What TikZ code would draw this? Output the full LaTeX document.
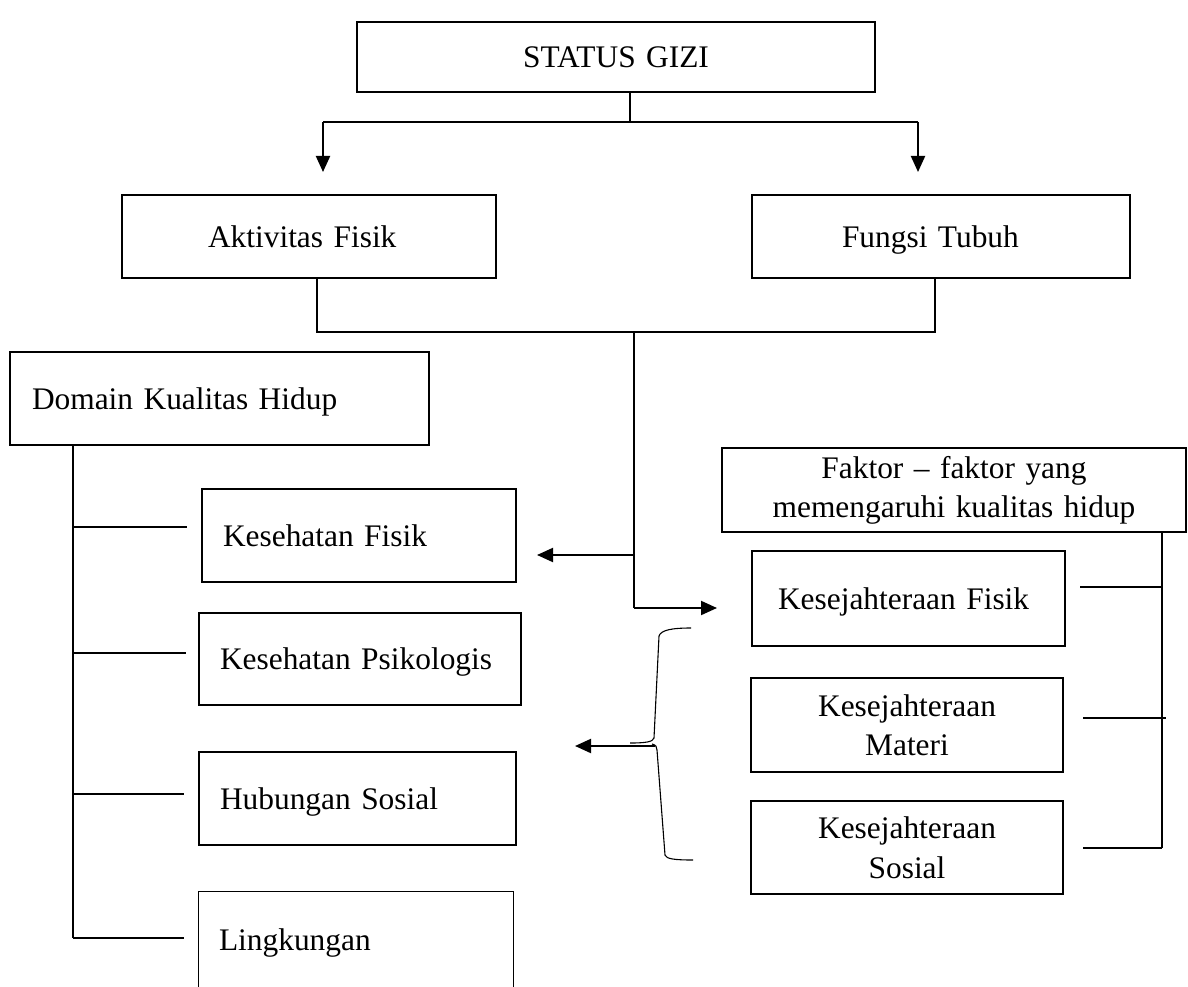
\documentclass[tikz,border=0pt]{standalone}
\usepackage{fontspec}
\setmainfont{Liberation Serif}
\usetikzlibrary{arrows.meta}
\begin{document}
\begin{tikzpicture}[x=1pt,y=-1pt,
  txt/.style={font=\fontsize{31.4}{39.5}\selectfont, inner ysep=0pt, text height=21.5pt, text depth=0pt},
  bold/.style={line width=2pt},
  mid/.style={line width=1.6pt},
  fine/.style={line width=1.2pt},
  lbox/.style={txt, draw, align=left},
  cbox/.style={txt, draw, bold, align=center, inner xsep=0pt},
  twoline/.style={text depth=39.5pt},
  conn/.style={line width=1.1pt},
  arr/.style={line width=2pt, -{Triangle[length=16pt,width=14pt]}}
]
\useasboundingbox (0,0) rectangle (1188,987);

% top level
\node[cbox, minimum width=518pt, minimum height=70pt, text width=518pt] (gizi) at (616,57) {STATUS GIZI};
\node[lbox, bold, minimum height=83pt, inner xsep=86pt, text width=202pt] (akt) at (309,236.5) {Aktivitas Fisik};
\node[lbox, bold, minimum height=83pt, inner xsep=90pt, text width=198pt] (fun) at (941,236.5) {Fungsi Tubuh};

% left column
\node[lbox, mid, minimum height=93pt, inner xsep=22pt, text width=375pt] (dom) at (219.5,398.5) {Domain Kualitas Hidup};
\node[lbox, mid, minimum height=93pt, inner xsep=21pt, text width=272pt] (kfis) at (359,535.5) {Kesehatan Fisik};
\node[lbox, fine, minimum height=92pt, inner xsep=21pt, text width=280pt] (kpsi) at (360,659) {Kesehatan Psikologis};
\node[lbox, fine, minimum height=93pt, inner xsep=21pt, text width=275pt] (hub) at (357.5,798.5) {Hubungan Sosial};
\node[lbox, draw=none, minimum height=95pt, inner xsep=20pt, text width=274pt] (ling) at (356,939.5) {Lingkungan};
\draw[fine] (ling.south west) -- (ling.north west) -- (ling.north east) -- (ling.south east);

% right column
\node[cbox, twoline, text depth=45.5pt, minimum width=464pt, minimum height=84pt, text width=464pt] (fak) at (954,490)
  {Faktor -- faktor yang\hspace*{22pt}\\memengaruhi kualitas hidup\hspace*{22pt}};
\node[lbox, bold, minimum height=95pt, inner xsep=26pt, text width=261pt] (kjf) at (908.5,598.5) {Kesejahteraan Fisik};
\node[cbox, twoline, minimum width=312pt, minimum height=94pt, text width=312pt] (kjm) at (907,725) {Kesejahteraan\\Materi};
\node[cbox, twoline, minimum width=312pt, minimum height=93pt, text width=312pt] (kjs) at (907,847.5) {Kesejahteraan\\Sosial};

% connectors from STATUS GIZI
\coordinate (s1) at (630,122);
\coordinate (t1) at (323,172);
\coordinate (t2) at (918,172);
\draw[conn] (s1 |- gizi.south) -- (s1);
\draw[conn] (t1 |- s1) -- (t2 |- s1);
\draw[arr] (t1 |- s1) -- (t1);
\draw[arr] (t2 |- s1) -- (t2);

% joining Aktivitas Fisik and Fungsi Tubuh
\coordinate (h1) at (317,332);
\coordinate (h2) at (935,332);
\draw[conn] (h1 |- akt.south) -- (h1) -- (h2) -- (h2 |- fun.south);

% central stem
\coordinate (m1) at (634,332);
\coordinate (m2) at (634,608);
\coordinate (la) at (634,555);
\coordinate (latip) at (537,555);
\coordinate (ratip) at (717,608);
\draw[mid] (m1) -- (m2);
\draw[arr] (la) -- (latip);
\draw[arr] (m2) -- (ratip);

% left bracket line
\coordinate (lv) at (73,938);
\draw[conn] (lv |- dom.south) -- (lv);
\coordinate (lt1) at (187,527);
\coordinate (lt2) at (186,653);
\coordinate (lt3) at (184,794);
\coordinate (lt4) at (184,938);
\draw[conn] (lv |- lt1) -- (lt1);
\draw[conn] (lv |- lt2) -- (lt2);
\draw[conn] (lv |- lt3) -- (lt3);
\draw[conn] (lv |- lt4) -- (lt4);

% right bracket line
\coordinate (rv) at (1162,848);
\draw[conn] (rv |- fak.south) -- (rv);
\coordinate (rt1) at (1080,587);
\coordinate (rt2) at (1083,718);
\coordinate (rt3) at (1083,848);
\draw[conn] (rt1) -- (rt1 -| rv);
\draw[conn] (rt2) -- (1166,718);
\draw[conn] (rt3) -- (rt3 -| rv);

% curly brace and its arrow
\draw[conn] (691,628) .. controls (672,628) and (661,630) .. (659,636) -- (654,738)
  .. controls (653,742) and (645,743) .. (630,743);
\draw[conn] (652,744) .. controls (656,745) and (657,747) .. (657,750) -- (665,855)
  .. controls (666,859) and (675,860) .. (693,860);
\coordinate (ba) at (655,746);
\coordinate (batip) at (575,746);
\draw[arr] (ba) -- (batip);
\end{tikzpicture}
\end{document}
